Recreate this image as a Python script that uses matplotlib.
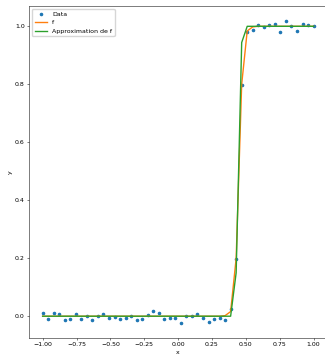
import numpy as np
import matplotlib
matplotlib.use("Agg")
import matplotlib.pyplot as plt

#### données
x = np.linspace(-1, 1, 50)

data_y = [0.012, -0.010, 0.012, 0.006, -0.014, -0.010, 0.006, -0.008, 0.000, -0.012,
          0.000, 0.007, -0.006, -0.003, -0.009, -0.006, 0.000, -0.014, -0.010, 0.003,
          0.017, 0.010, -0.009, -0.006, -0.007, -0.023, 0.001, 0.002, 0.007, -0.006,
          -0.020, -0.010, -0.006, -0.014, 0.025, 0.196, 0.797, 0.982, 0.987, 1.004,
          0.997, 1.004, 1.009, 0.980, 1.019, 1.000, 0.985, 1.008, 1.004, 1.001]

f_y = [0.0] * 33 + [0.002, 0.016, 0.200, 0.800, 0.984, 0.998] + [1.0] * 11

approx_y = [0.0] * 35 + [0.150, 0.944] + [1.0] * 13

xticks = [-1.0, -0.75, -0.5, -0.25, 0.0, 0.25, 0.5, 0.75, 1.0]
yticks = [0.0, 0.2, 0.4, 0.6, 0.8, 1.0]

##taille réduite
s = 0.45
plt.rcParams.update({
    "font.size": 10 * s,
    "lines.linewidth": 2.2 * s,
    "axes.linewidth": 0.8 * s,
    "xtick.major.width": 0.8 * s,
    "ytick.major.width": 0.8 * s,
    "xtick.major.size": 3.5 * s,
    "ytick.major.size": 3.5 * s,
    "xtick.major.pad": 3.5 * s,
    "ytick.major.pad": 3.5 * s,
    "axes.labelpad": 4.0 * s,
    "legend.fontsize": 10 * s,
})


def plot():
    fig = plt.figure(figsize=(3.25, 3.56), dpi=100)
    ax = fig.add_axes([0.0895, 0.0506, 0.917, 0.9334])

    ax.plot(x, data_y, ".", markersize=7 * s, label="Data")
    ax.plot(x, f_y, label="f")
    ax.plot(x, approx_y, label="Approximation de f")

    ax.set_xticks(xticks)
    ax.set_yticks(yticks)
    ax.set_xlabel("x")
    ax.set_ylabel("y")
    ax.legend(loc="upper left")

    fig.savefig("out.png", dpi=100)


if __name__ == "__main__":
    plot()
